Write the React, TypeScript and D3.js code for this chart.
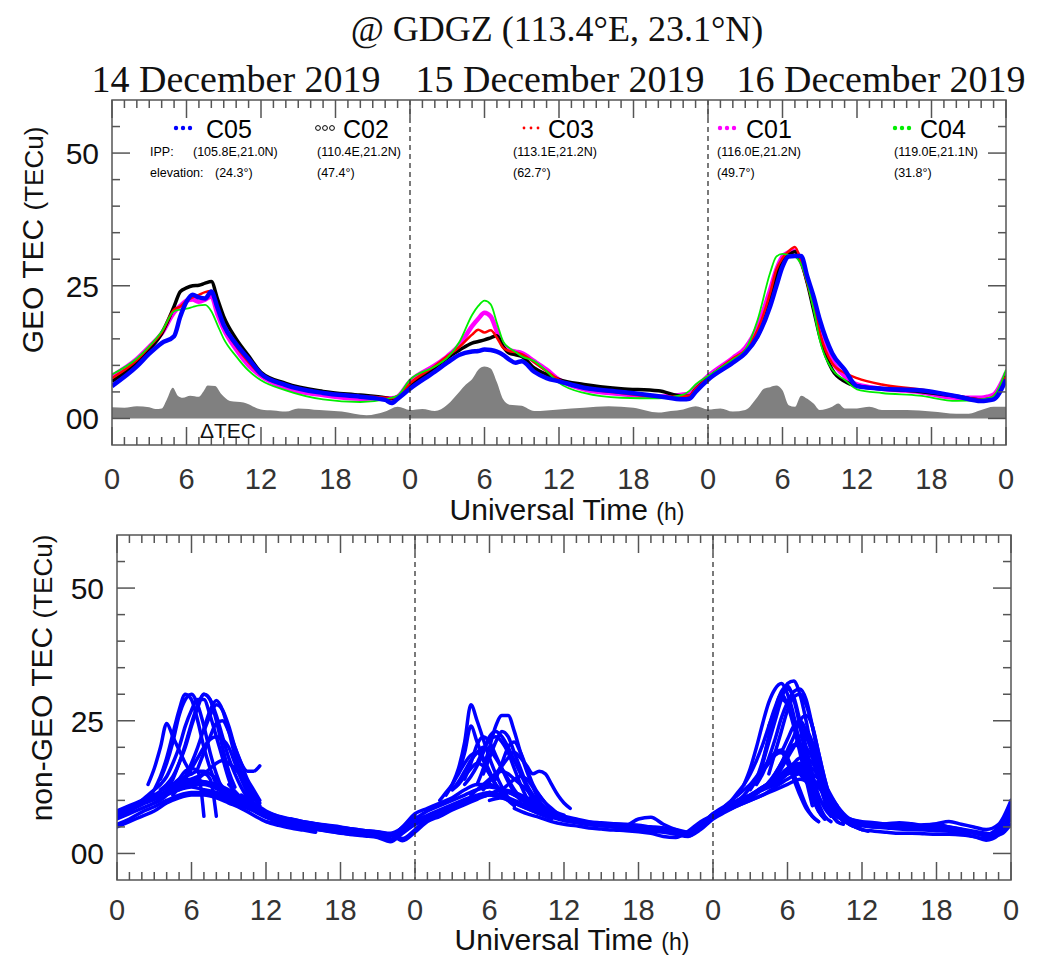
import React from 'react';
import * as d3 from 'd3';

// ---- data ----
const dayTitles = ['14 December 2019', '15 December 2019', '16 December 2019'];
const tickHours = [0, 6, 12, 18, 24, 30, 36, 42, 48, 54, 60, 66, 72];
const tickLabels = ['0', '6', '12', '18', '0', '6', '12', '18', '0', '6', '12', '18', '0'];
const yTickValues = [0, 25, 50];
const yTickLabels = ['00', '25', '50'];

const geoNames = ['C05', 'C02', 'C03', 'C01', 'C04'];
const geoIPP = ['(105.8E,21.0N)', '(110.4E,21.2N)', '(113.1E,21.2N)', '(116.0E,21.2N)', '(119.0E,21.1N)'];
const geoElev = ['(24.3°)', '(47.4°)', '(62.7°)', '(49.7°)', '(31.8°)'];

// GEO sampling hours (UT, hours from 14 Dec 00:00)
const geoHours = [
  0, 2, 3, 4, 5, 5.5, 6, 6.5, 7, 7.5, 8, 8.5, 9, 10, 11, 12, 14, 17, 20, 22, 22.5, 23,
  24, 26, 27, 28, 29, 29.5, 30, 30.5, 31, 31.5, 32, 32.5, 33, 34, 35, 36, 38, 41, 44, 46, 46.5, 47,
  48, 50, 51, 52, 53, 53.5, 54, 54.5, 55, 55.5, 56, 56.5, 57, 58, 59, 60, 62, 65, 68, 70, 70.5, 71, 72,
];

const c05 = [
  6.1, 9.8, 12.2, 14.2, 15.5, 19.2, 22, 23.3, 22.8, 22.6, 23.9, 20.8, 17.6, 14, 11.2, 8.4, 6.3, 4.8, 4.1, 3.5, 2.9, 3.7,
  5.6, 8.8, 10.5, 12, 12.6, 12.7, 13, 12.9, 12.6, 12, 11.1, 10.5, 10.8, 8.8, 7.6, 7, 5.8, 5, 4.2, 3.6, 3.7, 5,
  7.3, 10.5, 12.3, 15.5, 21.1, 24.9, 28.6, 30.5, 30.6, 30.6, 26.7, 23, 18.6, 12.3, 9.2, 6.1, 5.6, 5.3, 4.2, 3.3, 3.4, 3.6,
  7.3,
];
const c02 = [
  7.0, 10.5, 13, 16, 21.1, 23.9, 24.6, 25, 25.1, 25.5, 25.8, 22.5, 19.2, 15, 11.8, 8.7, 6.6, 5.1, 4.4, 3.9, 3.7, 4.0,
  6.2, 9.6, 11.4, 12.9, 14.2, 14.5, 14.8, 15.2, 15.6, 13.5, 12.3, 12, 11.7, 9.5, 8.3, 7.3, 6.4, 5.6, 5.2, 4.2, 4.2, 5.5,
  7.6, 11, 12.6, 15.5, 22.1, 26.7, 29.6, 30.8, 31.4, 29.6, 25.5, 20.5, 15.5, 9.2, 7, 6.1, 5.6, 5.1, 4.2, 3.5, 3.6, 3.9,
  8,
];
const c03 = [
  7.6, 11, 13.5, 16.2, 20.5, 21.1, 22.2, 22.8, 23.3, 23.8, 24, 20.8, 17.5, 13.6, 10.6, 8.2, 6.2, 4.8, 4.2, 3.9, 3.8, 4.2,
  6.6, 9.9, 11.7, 13.5, 15.8, 16.7, 16.2, 16.6, 15.2, 13.3, 12.7, 12.5, 12.1, 10.6, 8.9, 7.3, 5.8, 4.8, 4.1, 4.2, 4.3, 5.6,
  7.6, 11.3, 12.9, 16.7, 23.6, 28, 30.2, 31.5, 32.3, 29.5, 25.5, 21.1, 16.1, 10.4, 8.6, 7.6, 6.4, 5.5, 4.2, 3.6, 3.7, 4.2,
  7.9,
];
const c01 = [
  8, 11.2, 13.5, 16, 20, 21.2, 22.2, 22.4, 22, 22.4, 23, 19.6, 16.8, 13, 10, 8, 5.7, 4.4, 3.7, 3.8, 3.8, 4.1,
  7, 10, 11.7, 13.9, 17.4, 18.8, 19.9, 19.2, 16.4, 13.9, 12.9, 12.6, 12.3, 10.8, 9.2, 7.3, 5.5, 4.6, 4.1, 4.5, 4.7, 5.8,
  8, 11.4, 13.3, 17.4, 24.2, 28, 30.5, 31.3, 31.6, 29.5, 26.1, 21.7, 16.7, 10.8, 8, 6.4, 5.6, 5, 3.9, 3.9, 4.1, 4.5,
  8.6,
];
const c04 = [
  8.3, 11.3, 13.6, 16.4, 20.2, 20.5, 20.7, 21, 21.3, 21.4, 20.2, 17.6, 15, 11.7, 9, 7.2, 5.3, 3.6, 3.1, 3.6, 3.9, 4.3,
  7.3, 9.8, 11.4, 14.5, 19.5, 21.2, 22.2, 21.5, 18, 14.5, 13.3, 12.5, 11.7, 10.8, 8.9, 6.7, 4.8, 3.9, 3.8, 4.5, 5.2, 6.4,
  8, 11.1, 12.9, 18.6, 27.4, 30.5, 31, 30.8, 30.5, 29, 25.5, 20.5, 14.8, 9.2, 7.3, 5.5, 4.8, 4.3, 3.3, 3.6, 3.8, 4.2,
  9.2,
];

const dtecHours = [
  0, 1, 2, 3, 3.5, 4, 4.4, 4.9, 5.3, 5.7, 6.3, 7, 7.4, 7.7, 8.3, 8.8, 9.5, 10.6, 12, 13, 14, 15, 16.7, 18.5, 20.5, 22, 23,
  24, 25, 26, 27, 28, 28.5, 29, 29.5, 30, 30.5, 31, 31.5, 32, 33, 34, 36, 38, 40, 42, 44, 45, 46, 47,
  48, 49, 50, 51, 52, 52.5, 53, 53.5, 54, 54.5, 55, 55.5, 56, 56.5, 57, 58, 58.5, 59, 60, 61, 62, 64, 66, 68, 69, 70, 71, 72,
];
const dtecValues = [
  2.1, 2.0, 2.3, 2.1, 1.8, 1.9, 3.5, 5.8, 4.3, 3.9, 4.3, 4.1, 5.2, 6.2, 6.1, 4.6, 3.3, 3.0, 1.7, 1.5, 1.3, 1.9, 1.6, 1.3, 0.6, 1.3, 2.2,
  1.6, 1.8, 1.4, 2.6, 5.1, 6.4, 7.4, 9.2, 9.8, 9.4, 6.8, 3.6, 2.6, 2.4, 1.4, 1.7, 2.0, 2.3, 2.0, 1.1, 1.4, 1.7, 2.3,
  1.7, 1.9, 1.3, 1.6, 4.1, 5.6, 5.9, 6.2, 5.3, 2.5, 2.2, 4.3, 3.7, 2.8, 1.6, 2.2, 2.8, 1.9, 1.9, 2.2, 1.6, 1.6, 1.3, 0.9, 0.9, 1.6, 2.2, 2.2,
];

// non-GEO arcs: start hour, sample step (h), TEC samples
const nonGeoStart = [
  0, 0, 0, 0, 9, 12, 14, 17, 30, 32, 34, 38, 52, 56, 58, 59,
  0, 10, 20, 36, 40, 55, 57, 0,
  2.5, 3.5, 4, 4.5, 2.5, 5.5, 3, 5, 7, 6, 4.5, 2, 3.5, 6.5,
  26.5, 27.5, 29, 28, 27, 29.5, 28.5, 30.5, 26, 29, 31, 27, 29.5, 28,
  51, 50.5, 51.5, 52, 52.5, 49.5, 52.5, 53, 52, 53.5, 50, 54, 49, 55, 55.5, 51.5, 52.5,
];
const nonGeoStep = [
  1, 1, 1, 1, 1, 1, 1, 1, 1, 1, 1, 1, 1, 1, 1, 1,
  1, 1, 1, 1, 1, 1, 1, 1,
  0.5, 0.5, 0.5, 0.5, 0.5, 0.5, 0.5, 0.5, 0.5, 0.5, 0.5, 0.5, 0.5, 0.5,
  0.5, 0.5, 0.5, 0.5, 0.5, 0.5, 0.5, 0.5, 0.5, 0.5, 0.5, 0.5, 0.5, 0.5,
  0.5, 0.5, 0.5, 0.5, 0.5, 0.5, 0.5, 0.5, 0.5, 0.5, 0.5, 0.5, 0.5, 0.5, 0.5, 0.5, 0.5,
];
const nonGeoValues = [
  [6.5, 7.5, 8.5, 9.5, 11, 12, 12.5, 12, 11.5, 10.5, 9.5, 8.2, 7, 6.2, 5.6, 5.1, 4.8, 4.5, 4.0, 3.7, 3.5],
  [5, 6, 7, 8, 9.5, 10.5, 11, 11, 10.5, 9.5, 8.5, 7.2, 6, 5.3, 4.8, 4.4, 4.0],
  [8, 9, 10, 11, 12.5, 13.5, 14, 13.5, 13, 12, 10.5, 9, 7.5],
  [7, 8, 9.2, 10.2, 11.5, 12.5, 13, 13, 12.2, 11, 9.8, 8.5, 7.2, 6.5, 6, 5.5, 5.2, 4.9, 4.5, 4.2, 4, 3.6, 2.6, 4.5, 6.5],
  [13, 10.5, 8.8, 7.5, 6.8, 6.2, 5.8, 5.3, 5, 4.6, 4.2, 4, 3.8, 3.5, 2.8, 4.5, 6.5, 7.5, 8.5, 9.5, 10.5, 11.5],
  [6, 5.6, 5.2, 4.9, 4.5, 4.2, 3.8, 3.6, 3.4, 3.2, 2.5, 4, 5.5, 6.5, 7.5, 8.5, 9.5, 10.5, 11, 10.5, 9.5, 8.5, 7.5, 6.5],
  [6.5, 6, 5.6, 5.2, 4.9, 4.6, 4.3, 4.1, 3.8, 4.8, 6.5, 8, 9, 10, 11, 12, 12.5, 12, 11, 10, 9, 8, 7.2],
  [4.8, 4.4, 4.1, 4, 3.7, 3.2, 5, 7.5, 8.5, 9.5, 10.5, 12, 13, 13, 12, 11, 9.5, 8.5, 7.5, 6.8, 6.2, 5.8, 5.5, 5.2],
  [10, 10.5, 9.5, 8.5, 7.5, 6.8, 6.2, 5.8, 5.4, 5.2, 5, 4.8, 4.6, 4.4, 4.2, 3.8, 3.4, 5, 7.5, 8.5, 9.5, 10.5, 12, 13, 15],
  [8.5, 7.5, 6.8, 6, 5.5, 5.2, 4.8, 4.6, 4.4, 4.3, 4.1, 3.8, 3.2, 3, 4.2, 6, 7.2, 8.5, 9.5, 11, 12.5, 14, 15.5, 16.5, 15],
  [8.5, 7.5, 7, 6.5, 6, 5.8, 5.6, 5.4, 5.2, 5, 4.8, 4.2, 3.6, 5.5, 7, 8, 9, 10, 11, 12.5, 14, 15, 14, 12, 9],
  [5.5, 5.3, 5.2, 5.3, 6.5, 6.8, 5.5, 4.5, 3.8, 5, 7, 8.5, 10, 11, 12.5, 14, 16, 17, 16, 13, 9, 6.5, 5.5, 5, 5],
  [12, 13.5, 15, 15.5, 14, 11, 8, 6.5, 6, 5.8, 5.5, 5.3, 5.2, 5.4, 5.5, 5, 4.5, 4, 3.5, 5, 8.5],
  [14, 11, 8, 6, 5.2, 5, 4.8, 4.6, 4.5, 4.4, 4.3, 4.2, 3.8, 3.2, 2.8, 4.5, 9],
  [7, 5.5, 4.5, 4.2, 4, 3.8, 3.8, 3.7, 3.6, 3.6, 3.5, 3.2, 2.5, 3.5, 6.5],
  [6.5, 5.8, 5.5, 5.6, 5.8, 5.6, 5.3, 5.6, 6, 5.5, 5, 4.5, 5.5, 10],
  [5.5, 6.5, 7.8, 8.8, 10, 11, 11.5, 11.5, 11, 10, 9, 8, 6.8, 6, 5.4, 5, 4.6, 4.2, 3.9, 3.5, 3.3, 3.0, 2.2, 3.8, 5.5, 6.8, 8, 9, 10, 10.5, 11, 10.5],
  [11, 9.5, 8, 7, 6.4, 5.9, 5.5, 5.1, 4.8, 4.4, 4.1, 3.9, 3.6, 2.4, 4, 6, 7, 8.2, 9.2, 10.2, 11.2, 12, 11.5, 10.5, 9.5],
  [4.2, 4, 3.6, 4.2, 6, 7.2, 8.2, 9.2, 10.2, 11, 11.5, 11, 10, 9, 8, 7.2, 6.6, 6.2, 5.9, 5.6, 5.3, 5, 4.7, 4.2, 4, 3.6, 3.2, 5.5],
  [6.2, 5.9, 5.5, 5.2, 5, 4.9, 4.8, 4.6, 4.3, 3.8, 3.3, 4.5, 6.5, 7.8, 9, 10, 11, 12, 13, 14, 13],
  [5.6, 5.5, 5.3, 5, 4.8, 4.5, 4.0, 5.5, 7.5, 9, 10, 11, 12.5, 13.5, 15, 16, 15, 13],
  [15, 12, 9, 7, 6, 5.5, 5.3, 5.2, 5, 5, 4.8, 4.8, 4.5, 4.2, 3.8, 3.3, 4, 7.5],
  [10, 7, 5.8, 5.4, 5.2, 5, 4.9, 4.8, 4.9, 5.2, 5, 4.6, 4.2, 3.8, 3.5, 5.5],
  [7.5, 8.5, 9.5, 10.5, 11.8, 13, 13.5, 13.5, 12.5, 11.5, 10, 8.8, 7.8, 7, 6.5, 6, 5.6, 5.3, 5, 4.6, 4.3, 4, 3.4, 5, 7.2],
  // day 1 peak arcs
  [10, 12, 14.5, 18, 22.5, 27, 30, 29, 25, 20, 16, 13, 11],
  [14, 17, 21, 26, 29, 30, 28, 24, 19, 15, 12, 10],
  [12, 14, 17, 20.5, 24.5, 28, 30, 29, 26, 22, 18, 15, 12.5, 10.5],
  [11, 12.5, 14.5, 17, 20, 23.5, 27, 28.8, 27, 23, 18.5, 15.5, 13, 11, 9.5],
  [13, 16, 20, 24.5, 22, 19.5, 17, 15],
  [14, 16, 18, 20, 21.5, 22, 21.5, 20, 17, 14, 11.5, 9.5],
  [9.5, 10, 11, 12.5, 14, 15.5, 16, 15.5, 7],
  [12, 13, 14, 14.5, 15, 14, 7],
  [23, 26, 28, 27, 24, 20, 17, 15.5, 15.5, 16.5],
  [13, 14, 15, 16, 17, 17.5, 17, 16, 14.5, 12.5, 10.5, 9],
  [13, 14, 14.5, 15, 15.5, 15.5, 15, 14, 12.5, 11, 9.5],
  [10, 11, 12, 13, 14.5, 17, 20, 24, 27, 29, 29, 26, 22, 18, 14, 11, 9],
  [12, 13, 14.5, 17, 20, 24, 27.5, 30, 29, 25, 20, 15.5, 12.5],
  [16, 19, 22, 24.5, 25, 23, 20, 17, 14, 12, 10],
  // day 2 peak arcs
  [11, 13, 16, 21, 28, 25, 21.5, 18, 15, 12.5, 10.5, 9],
  [15, 19, 24, 21, 18, 15.5, 13, 11],
  [13, 16, 20, 24, 26, 26, 23, 19, 15.5, 12.5, 10, 8.5],
  [13, 14.5, 16.5, 19, 22, 23, 22, 20, 17.5, 15, 12.5, 10, 8.5],
  [12, 13.5, 15.5, 17.5, 19, 20, 19.5, 18, 16, 14, 12, 10.5, 9.5],
  [12, 13.5, 15, 16.5, 18, 19, 18, 16.5, 15, 15.5, 15, 13, 11, 9.5, 8.5],
  [11, 12, 13, 14, 15, 15.5, 15, 14, 13, 12, 10.5, 9, 8],
  [14, 17, 20, 21, 19, 16, 13, 11, 9.5, 8.5, 7.5],
  [10, 11.5, 13, 15, 17, 18.5, 19, 17.5, 15, 13, 11.5, 10],
  [17, 19.5, 21.5, 22, 21, 19, 16, 13, 10.5, 8.5],
  [12, 13, 14, 14.5, 14, 12.5, 11, 9.5, 8, 7],
  [12, 13, 14.5, 16, 17, 16.5, 15, 13, 11.5, 10, 9],
  [15, 18, 21, 23, 22, 19, 16, 13, 11, 9.5, 8.5],
  [14, 17, 20.5, 22, 21, 18.5, 16, 13.5, 11.5, 10],
  // day 3 peak arcs
  [12, 14, 17, 21, 25, 29, 32, 32.5, 30, 25, 19, 14, 10, 7.5, 6],
  [13, 16, 20, 24.5, 28.5, 31, 32, 30, 26, 20, 15, 11, 8, 6.5],
  [14, 17.5, 22, 27, 30.5, 31.5, 29, 24, 18, 13, 9.5, 7, 6],
  [17, 22, 27, 30, 31, 29.5, 25, 20, 15, 11, 8.5, 7],
  [15, 19, 23, 27, 29.5, 30, 28, 24, 19, 14, 10, 7.5, 6],
  [10, 11.5, 13, 15, 17.5, 20.5, 24, 27.5, 30, 28, 24, 19, 14, 10.5, 8, 6.5],
  [24, 27, 29, 28, 25, 21, 17, 12, 8.5],
  [14, 16, 18, 20, 22, 23, 21, 16, 11, 8.5],
  [12, 13.5, 15, 17, 19, 20.5, 20, 14, 9],
  [19, 21.5, 24, 25, 23, 19, 14, 10, 7.5, 6, 5.5],
  [10, 11, 12.5, 14, 15.5, 17, 18.5, 19, 17, 14, 11, 8.5, 7, 6],
  [16, 17, 18, 18, 17, 15, 12.5, 10, 8, 6.5, 5.5, 5],
  [9, 10, 11, 12, 13, 14.5, 16, 17.5, 19, 19.5, 18, 15, 12, 9, 7, 6],
  [24, 22, 19, 15.5, 12.5, 10, 8, 6.5, 5.5, 5, 4.5],
  [20, 18, 15, 12, 9.5, 8, 6.5, 5.5, 5, 4.5, 4.2],
  [13, 15, 18, 21.5, 25.5, 28.5, 30.5, 31, 29, 24, 18, 13, 9, 7],
  [13, 15, 17, 19.5, 22, 25, 26, 24, 19, 14, 10, 7.5, 6.5],
];

// ---- layout ----
const W = 1043;
const H = 960;
const SANS = '"Liberation Sans", Arial, Helvetica, sans-serif';
const SERIF = '"Liberation Serif", "Times New Roman", serif';
const AXIS = '#555';

const xTop = d3.scaleLinear().domain([0, 72]).range([112, 1006]);
const yTop = d3.scaleLinear().domain([-5, 60]).range([445, 100]);
const xBot = d3.scaleLinear().domain([0, 72]).range([117, 1011]);
const yBot = d3.scaleLinear().domain([-5, 60]).range([880, 535]);

type Scale = d3.ScaleLinear<number, number>;

function Frame({ xs, ys, labelY, titleY, yLabelX, yLabelY, yLabel, id }: {
  xs: Scale; ys: Scale; labelY: number; titleY: number; yLabelX: number; yLabelY: number; yLabel: string; id: string;
}) {
  const [x0, x1] = xs.range();
  const [yb, yt] = ys.range();
  const hours = d3.range(0, 73);
  const vals = d3.range(0, 60, 5);
  return (
    <g>
      {[24, 48].map(h => (
        <line key={id + 'd' + h} x1={xs(h)} x2={xs(h)} y1={yt} y2={yb} stroke="#222" strokeWidth={1.2} strokeDasharray="5,4" />
      ))}
      <g stroke={AXIS} strokeWidth={1.5}>
        {hours.map(h => {
          const len = h % 6 === 0 ? 18 : 8;
          const px = xs(h);
          return (
            <g key={id + 'x' + h}>
              <line x1={px} x2={px} y1={yb} y2={yb - len} />
              <line x1={px} x2={px} y1={yt} y2={yt + len} />
            </g>
          );
        })}
        {vals.map(v => {
          const len = v % 25 === 0 ? 18 : 8;
          const py = ys(v);
          return (
            <g key={id + 'y' + v}>
              <line x1={x0} x2={x0 + len} y1={py} y2={py} />
              <line x1={x1} x2={x1 - len} y1={py} y2={py} />
            </g>
          );
        })}
        <rect x={x0} y={yt} width={x1 - x0} height={yb - yt} fill="none" />
      </g>
      {tickHours.map((h, i) => (
        <text key={id + 'tl' + i} x={xs(h)} y={labelY} textAnchor="middle" fontFamily={SANS} fontSize={29} fill="#333">
          {tickLabels[i]}
        </text>
      ))}
      {yTickValues.map((v, i) => (
        <text key={id + 'yl' + i} x={x0 - 13} y={ys(v) + 11} textAnchor="end" fontFamily={SANS} fontSize={30} fill="#111">
          {yTickLabels[i]}
        </text>
      ))}
      <text x={(x0 + x1) / 2 + 8} y={titleY} textAnchor="middle" fontFamily={SANS} fontSize={30} fill="#111">
        Universal Time <tspan fontSize={23}>(h)</tspan>
      </text>
      <text transform={`translate(${yLabelX},${yLabelY}) rotate(-90)`} textAnchor="middle" fontFamily={SANS} fontSize={30} fill="#111">
        {yLabel} <tspan fontSize={26}>(TECu)</tspan>
      </text>
    </g>
  );
}

const geoSeries = [
  { values: c01, color: '#ff00ff', width: 4.5 },
  { values: c02, color: '#000000', width: 3.5 },
  { values: c03, color: '#ff0000', width: 2.5 },
  { values: c04, color: '#00ee00', width: 1.8 },
  { values: c05, color: '#0000ff', width: 4.5 },
];

// legend layout: marker start, name x, info x
const legendMarkX = [173, 315, 521, 717, 892];
const legendNameX = [206, 343, 548, 746, 920];
const legendIppX = [193, 317, 513, 717, 894];
const legendElevX = [215, 317, 513, 717, 894];
const legendColors = ['#0000ff', '#000000', '#ff0000', '#ff00ff', '#00ee00'];

export default function App() {
  const lineTop = d3.line<number>()
    .x((_, i) => xTop(geoHours[i]))
    .y(d => yTop(d))
    .curve(d3.curveMonotoneX);
  const dtecArea = d3.area<number>()
    .x((_, i) => xTop(dtecHours[i]))
    .y0(yTop(0))
    .y1(d => yTop(d))
    .curve(d3.curveMonotoneX);

  const arcPaths = nonGeoValues.map((vals, k) =>
    d3.line<number>()
      .x((_, i) => xBot(nonGeoStart[k] + i * nonGeoStep[k]))
      .y(d => yBot(d))
      .curve(d3.curveMonotoneX)(vals) || ''
  );

  return (
    <svg width={W} height={H} viewBox={`0 0 ${W} ${H}`} style={{ position: 'absolute', left: 0, top: 0, display: 'block', background: '#fff' }}>
      <defs>
        <clipPath id="clipTop">
          <rect x={112} y={100} width={894} height={345} />
        </clipPath>
        <clipPath id="clipBot">
          <rect x={117} y={535} width={894} height={345} />
        </clipPath>
      </defs>

      <text x={557} y={41} textAnchor="middle" fontFamily={SERIF} fontSize={36} fill="#111">
        @ GDGZ (113.4°E, 23.1°N)
      </text>
      {dayTitles.map((t, i) => (
        <text key={t} x={[236, 560, 881][i]} y={92} textAnchor="middle" fontFamily={SERIF} fontSize={38} fill="#111">
          {t}
        </text>
      ))}

      {/* top panel: GEO TEC */}
      <g clipPath="url(#clipTop)">
        <path d={dtecArea(dtecValues) || ''} fill="#808080" />
        {geoSeries.map((s, i) => (
          <path key={'g' + i} d={lineTop(s.values) || ''} fill="none" stroke={s.color} strokeWidth={s.width} strokeLinejoin="round" />
        ))}
      </g>
      <Frame xs={xTop} ys={yTop} labelY={489} titleY={520} yLabelX={43} yLabelY={240} yLabel="GEO TEC" id="t" />
      <text x={200} y={438} fontFamily={SANS} fontSize={21} fill="#111">ΔTEC</text>

      {/* legend */}
      {geoNames.map((n, i) => (
        <g key={n}>
          {[0, 1, 2].map(j =>
            i === 1 ? (
              <circle key={j} cx={legendMarkX[i] + 3 + j * 7} cy={128} r={2.4} fill="none" stroke="#000" strokeWidth={1} />
            ) : (
              <circle key={j} cx={legendMarkX[i] + 3 + j * 7} cy={128} r={i === 2 ? 1.4 : 2.2} fill={legendColors[i]} />
            )
          )}
          <text x={legendNameX[i]} y={138} fontFamily={SANS} fontSize={25} fill="#000">{n}</text>
          <text x={legendIppX[i]} y={156} fontFamily={SANS} fontSize={12.5} fill="#000">{geoIPP[i]}</text>
          <text x={legendElevX[i]} y={177} fontFamily={SANS} fontSize={12.5} fill="#000">{geoElev[i]}</text>
        </g>
      ))}
      <text x={150} y={156} fontFamily={SANS} fontSize={12.5} fill="#000">IPP:</text>
      <text x={150} y={177} fontFamily={SANS} fontSize={12.5} fill="#000">elevation:</text>

      {/* bottom panel: non-GEO TEC */}
      <g clipPath="url(#clipBot)">
        {arcPaths.map((d, i) => (
          <path key={'n' + i} d={d} fill="none" stroke="#0000ff" strokeWidth={3.5} strokeLinejoin="round" strokeLinecap="round" />
        ))}
      </g>
      <Frame xs={xBot} ys={yBot} labelY={920} titleY={950} yLabelX={52} yLabelY={678} yLabel="non-GEO TEC" id="b" />
    </svg>
  );
}
